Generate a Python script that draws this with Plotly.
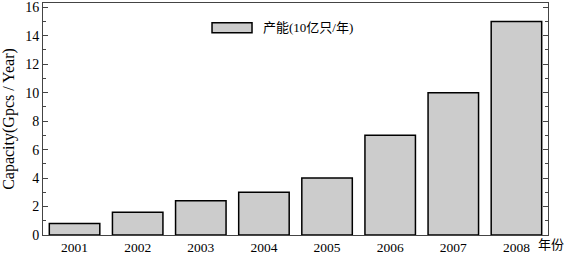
import plotly.graph_objects as go

years = ["2001", "2002", "2003", "2004", "2005", "2006", "2007", "2008"]
capacity = [0.8, 1.6, 2.4, 3.0, 4.0, 7.0, 10.0, 15.0]
y_ticks = [0, 2, 4, 6, 8, 10, 12, 14, 16]
series_name = "产能(10亿只/年)"
y_title = "Capacity(Gpcs / Year)"
x_unit = "年份"

font_family = "Liberation Serif, Noto Sans CJK SC, serif"

fig = go.Figure()
fig.add_trace(go.Bar(
    x=years, y=capacity, name=series_name,
    marker=dict(color="#cccccc", line=dict(color="black", width=1.5)),
    width=0.8, showlegend=False,
))

fig.update_layout(
    width=566, height=254,
    margin=dict(l=43, r=18, t=3, b=19),
    plot_bgcolor="white", paper_bgcolor="white",
    font=dict(family=font_family, size=13, color="black"),
    showlegend=False,
)
fig.update_xaxes(
    showline=True, linecolor="#444", linewidth=1, mirror=True,
    ticks="", showgrid=False, tickfont=dict(size=13.5), automargin=False,
    ticklabeloverflow="allow", ticklabelstandoff=0,
)
fig.update_yaxes(
    range=[0, 16.3], tickvals=y_ticks, showline=True, linecolor="#444",
    linewidth=1, mirror="ticks", ticks="inside", ticklen=5, tickcolor="#444",
    minor=dict(ticks="inside", dtick=1, ticklen=3, tickcolor="#444"),
    showgrid=False, zeroline=False, tickfont=dict(size=14), automargin=False,
    ticklabeloverflow="allow",
    title=dict(text=y_title, font=dict(size=16), standoff=6),
)
# legend drawn manually (wide swatch as in the reference)
fig.add_shape(type="rect", xref="paper", yref="paper",
              x0=0.3347, x1=0.4139, y0=0.872, y1=0.9145,
              fillcolor="#cccccc", line=dict(color="black", width=1.5))
fig.add_annotation(text=series_name, xref="paper", yref="paper",
                   x=0.4317, y=0.893, xanchor="left", yanchor="middle",
                   showarrow=False, font=dict(size=13))
fig.add_annotation(
    text=x_unit, xref="paper", yref="paper", x=1.0356, y=0, xanchor="right",
    yanchor="top", yshift=0, showarrow=False, font=dict(size=13),
)
fig.write_html("out.html")
